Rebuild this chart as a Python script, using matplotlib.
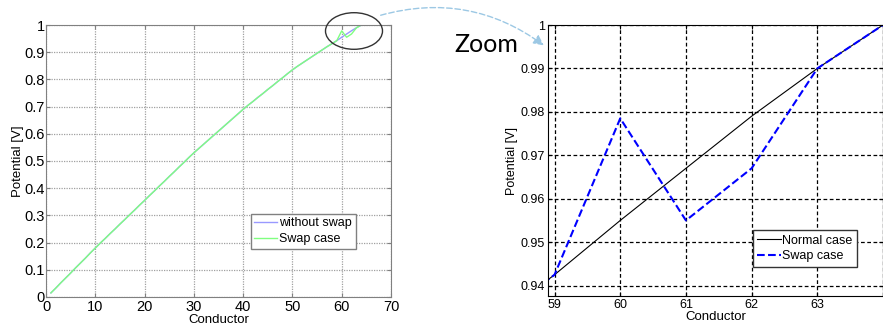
import numpy as np
import matplotlib
matplotlib.use('Agg')
import matplotlib.pyplot as plt
from matplotlib.patches import Ellipse, FancyArrowPatch

plt.rcParams['font.family'] = ['Liberation Sans', 'DejaVu Sans']

# potential along the conductors
conductor = np.arange(1, 65)
normal_case = [
    0.015, 0.033, 0.052, 0.070, 0.088, 0.107, 0.125, 0.143, 0.162, 0.180,
    0.198, 0.215, 0.233, 0.250, 0.268, 0.285, 0.303, 0.320, 0.338, 0.355,
    0.373, 0.390, 0.408, 0.425, 0.443, 0.460, 0.478, 0.495, 0.513, 0.530,
    0.546, 0.562, 0.578, 0.594, 0.610, 0.626, 0.642, 0.658, 0.674, 0.690,
    0.705, 0.719, 0.734, 0.748, 0.763, 0.777, 0.792, 0.806, 0.821, 0.835,
    0.848, 0.860, 0.872, 0.884, 0.896, 0.908, 0.920, 0.931, 0.9425, 0.955,
    0.967, 0.979, 0.990, 1.000,
]
swap_case = normal_case[:59] + [0.9785, 0.955, 0.967, 0.990, 1.000]

left_xticks = [0, 10, 20, 30, 40, 50, 60, 70]
left_yticks = [0, 0.1, 0.2, 0.3, 0.4, 0.5, 0.6, 0.7, 0.8, 0.9, 1]
left_ylabels = ['0', '0.1', '0.2', '0.3', '0.4', '0.5', '0.6', '0.7', '0.8', '0.9', '1']
zoom_xticks = [59, 60, 61, 62, 63, 64]
zoom_yticks = [0.94, 0.95, 0.96, 0.97, 0.98, 0.99, 1.0]
zoom_ylabels = ['0.94', '0.95', '0.96', '0.97', '0.98', '0.99', '1']

fig = plt.figure(figsize=(8.83, 3.29), dpi=100)

# full view
ax1 = fig.add_axes([0.0521, 0.0973, 0.3907, 0.8267])
ax1.plot(conductor, normal_case, color='#9999ff', lw=1.0, label='without swap')
ax1.plot(conductor, swap_case, color='#80ff80', lw=1.0, label='Swap case')
ax1.set_xlim(0, 70)
ax1.set_ylim(0, 1)
ax1.set_xticks(left_xticks)
ax1.set_yticks(left_yticks)
ax1.set_yticklabels(left_ylabels)
ax1.tick_params(labelsize=10.5, direction='in', top=True, right=True, length=3,
                pad=1, color='#808080')
ax1.tick_params(axis='x', pad=2)
ax1.grid(True, color='#a0a0a0', linestyle=(0, (1, 1)), lw=0.9)
for s in ax1.spines.values():
    s.set_color('#808080')
ax1.set_xlabel('Conductor', fontsize=9.5, labelpad=0)
ax1.set_ylabel('Potential [V]', fontsize=9.5, labelpad=0)
ax1.legend(loc='lower right', bbox_to_anchor=(0.916, 0.154), fontsize=9,
           fancybox=False, framealpha=1, edgecolor='#808080',
           handlelength=1.8, handletextpad=0.2, borderpad=0.3, labelspacing=0.3)

# zoomed view
ax2 = fig.add_axes([0.6206, 0.1003, 0.3794, 0.8237])
ax2.plot(conductor, normal_case, color='black', lw=0.8, label='Normal case')
ax2.plot(conductor, swap_case, color='#0000ff', lw=1.5, ls='--', label='Swap case')
ax2.set_xlim(58.9, 63.86)
ax2.set_ylim(0.9376, 1.0)
ax2.set_xticks(zoom_xticks)
ax2.set_xticklabels(['59', '60', '61', '62', '63', ''])
ax2.set_yticks(zoom_yticks)
ax2.set_yticklabels(zoom_ylabels)
ax2.tick_params(labelsize=9, direction='in', top=True, right=True, length=3, pad=2)
ax2.grid(True, color='black', linestyle=(0, (3, 2)), lw=0.9)
ax2.set_xlabel('Conductor', fontsize=9.5, labelpad=0)
ax2.set_ylabel('Potential [V]', fontsize=9, labelpad=2)
ax2.legend(loc='lower right', bbox_to_anchor=(0.94, 0.085), fontsize=9,
           fancybox=False, framealpha=1, edgecolor='#333333',
           handlelength=1.9, handletextpad=0.1, borderpad=0.35, labelspacing=0.3)

# annotation: ellipse, curved arrow and label
W, H = 883.0, 329.0
ell = Ellipse((354 / W, 1 - 31 / H), 57 / W, 36.6 / H, transform=fig.transFigure,
              fill=False, edgecolor='#333333', lw=1.0, clip_on=False)
fig.patches.append(ell)
arr = FancyArrowPatch((378 / W, 1 - 16 / H), (546 / W, 1 - 47 / H),
                      transform=fig.transFigure, connectionstyle='arc3,rad=-0.25',
                      arrowstyle='-|>,head_length=6,head_width=3', color='#9cc8e4',
                      lw=1.0, linestyle=(0, (4, 2)))
fig.patches.append(arr)
fig.text(454 / W, 1 - 44 / H, 'Zoom', fontsize=18, va='center', ha='left',
         family=['Lato', 'DejaVu Sans'])

fig.savefig('out.png', dpi=100)
